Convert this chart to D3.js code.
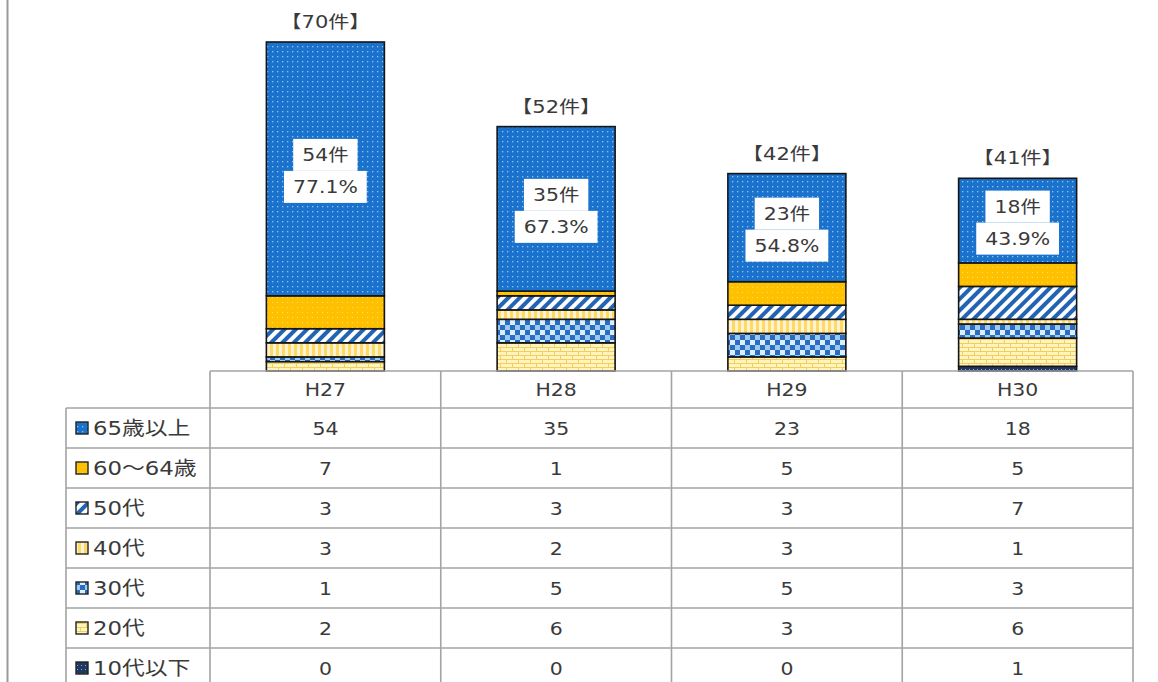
<!DOCTYPE html>
<html><head><meta charset="utf-8">
<script src="https://cdn.jsdelivr.net/npm/d3@7"></script>
<style>
html,body{margin:0;padding:0;background:#fff;}
svg{display:block;font-family:"DejaVu Sans","Noto Sans CJK JP",sans-serif;}
</style></head>
<body><svg id="c" width="1158" height="682"></svg>
<script>
const categories = ["H27","H28","H29","H30"];
const seriesNames = ["65歳以上","60～64歳","50代","40代","30代","20代","10代以下"];
const v65 = [54,35,23,18];
const v60 = [7,1,5,5];
const v50 = [3,3,3,7];
const v40 = [3,2,3,1];
const v30 = [1,5,5,3];
const v20 = [2,6,3,6];
const v10 = [0,0,0,1];
const seriesValues = [v65,v60,v50,v40,v30,v20,v10];
const patternIds = ["p65","p60","p50","p40","p30","p20","p10"];

const svg = d3.select("#c");
const defs = svg.append("defs");
function pat(id,w,h,bg,draw,tr){
  const p = defs.append("pattern").attr("id",id).attr("patternUnits","userSpaceOnUse")
    .attr("width",w).attr("height",h);
  if(tr) p.attr("patternTransform",tr);
  p.append("rect").attr("width",w).attr("height",h).attr("fill",bg);
  draw(p);
}
pat("p65",5,5,"#1a72cc",p=>{p.append("rect").attr("x",2).attr("y",1).attr("width",1.3).attr("height",1.3).attr("fill","#8cc6f2");});
pat("p60",5,5,"#ffc000",p=>{p.append("rect").attr("x",2).attr("y",2).attr("width",1).attr("height",1).attr("fill","#ffdc70");});
pat("p50",8,8,"#ffffff",p=>{p.append("rect").attr("width",4).attr("height",8).attr("fill","#2263b3");},"rotate(45)");
pat("p40",6,6,"#ffd966",p=>{p.append("rect").attr("x",3).attr("width",3).attr("height",6).attr("fill","#fff4cf");});
pat("p30",10,10,"#2a6cc0",p=>{
  p.append("rect").attr("width",5).attr("height",5).attr("fill","#dcedfb");
  p.append("rect").attr("x",5).attr("y",5).attr("width",5).attr("height",5).attr("fill","#9ccaf0");
});
pat("p20",12,8,"#fff3bf",p=>{
  p.append("rect").attr("y",3).attr("width",12).attr("height",1).attr("fill","#f2cf5a");
  p.append("rect").attr("y",7).attr("width",12).attr("height",1).attr("fill","#f2cf5a");
  p.append("rect").attr("x",2).attr("width",1).attr("height",3).attr("fill","#f2cf5a");
  p.append("rect").attr("x",8).attr("y",4).attr("width",1).attr("height",3).attr("fill","#f2cf5a");
});
pat("p10",4,4,"#1f3864",p=>{p.append("rect").attr("x",1).attr("y",1).attr("width",1).attr("height",1).attr("fill","#8fa6cc");});

const SX = 1.2, FS = 17, TXT = "#3a3a3a";
function txt(parent, x, y, str, anchor, fs){
  const t = parent.append("text")
    .attr("transform",`translate(${x},${y}) scale(${SX},1)`)
    .attr("text-anchor",anchor||"middle").attr("font-size",fs||FS).attr("fill",TXT).text(str);
  return t;
}

svg.append("line").attr("x1",7.5).attr("x2",7.5).attr("y1",0).attr("y2",682).attr("stroke","#9a9a9a").attr("stroke-width",2);

const x = d3.scaleBand().domain(categories).range([210,1133]).paddingInner(0).paddingOuter(0);
const y = d3.scaleLinear().domain([0,70]).range([371,42]);
const barW = 118;

const rows = categories.map((c,i)=>{const o={cat:c}; seriesNames.forEach((s,j)=>o[s]=seriesValues[j][i]); return o;});
const stackOrder = seriesNames.slice().reverse();
const stacked = d3.stack().keys(stackOrder)(rows);

const g = svg.append("g");
stacked.forEach(layer=>{
  const idx = seriesNames.indexOf(layer.key);
  g.selectAll(null).data(layer).enter().append("rect")
    .attr("x",d=>x(d.data.cat)+x.bandwidth()/2-barW/2)
    .attr("width",barW)
    .attr("y",d=>y(d[1]))
    .attr("height",d=>y(d[0])-y(d[1]))
    .attr("fill",`url(#${patternIds[idx]})`)
    .attr("stroke",d=>d[1]-d[0]>0?"#151515":"none")
    .attr("stroke-width",1.6);
});

const totals = categories.map((c,i)=>d3.sum(seriesValues,s=>s[i]));
categories.forEach((c,i)=>{
  txt(svg, x(c)+x.bandwidth()/2, y(totals[i])-14, `【${totals[i]}件】`, "middle", 17.5);
});

categories.forEach((c,i)=>{
  const cx = x(c)+x.bandwidth()/2;
  const base = totals[i]-v65[i];
  const cy = (y(base)+y(totals[i]))/2+2;
  const lines = [`${v65[i]}件`, `${(v65[i]/totals[i]*100).toFixed(1)}%`];
  const lg = svg.append("g");
  const bg = lg.append("g");
  lines.forEach((t,k)=>{
    const ly = cy + (k===0?-16:16);
    const te = txt(lg, cx, ly+6, t);
    const w = te.node().getComputedTextLength()*SX + 18;
    bg.append("rect").attr("x",cx-w/2).attr("y",ly-16).attr("width",w).attr("height",32).attr("fill","#fff");
  });
});

const rowTop = 408, rowH = 40, labelX0 = 66;
const lineCol = "#a3a3a3";
const tg = svg.append("g");
tg.append("line").attr("x1",210).attr("x2",1133).attr("y1",371).attr("y2",371).attr("stroke",lineCol).attr("stroke-width",1.6);
const xs = categories.map(c=>x(c)).concat([x(categories[3])+x.bandwidth()]);
xs.forEach(xx=>tg.append("line").attr("x1",xx).attr("x2",xx).attr("y1",371).attr("y2",682).attr("stroke",lineCol).attr("stroke-width",1.6));
tg.append("line").attr("x1",labelX0).attr("x2",labelX0).attr("y1",rowTop).attr("y2",682).attr("stroke",lineCol).attr("stroke-width",1.6);
for(let r=0;r<seriesNames.length;r++){
  const yy = rowTop + r*rowH;
  tg.append("line").attr("x1",labelX0).attr("x2",1133).attr("y1",yy).attr("y2",yy).attr("stroke",lineCol).attr("stroke-width",1.6);
}
categories.forEach(c=>txt(tg, x(c)+x.bandwidth()/2, 396, c));
seriesNames.forEach((s,r)=>{
  const cy = rowTop + r*rowH + rowH/2;
  tg.append("rect").attr("x",76).attr("y",cy-6).attr("width",12).attr("height",12)
    .attr("fill",`url(#${patternIds[r]})`).attr("stroke","#222").attr("stroke-width",1.4);
  txt(tg, 93, cy+7, s, "start", 19);
  categories.forEach((c,i)=>{
    txt(tg, x(c)+x.bandwidth()/2, cy+6.5, seriesValues[r][i]);
  });
});
</script></body></html>
